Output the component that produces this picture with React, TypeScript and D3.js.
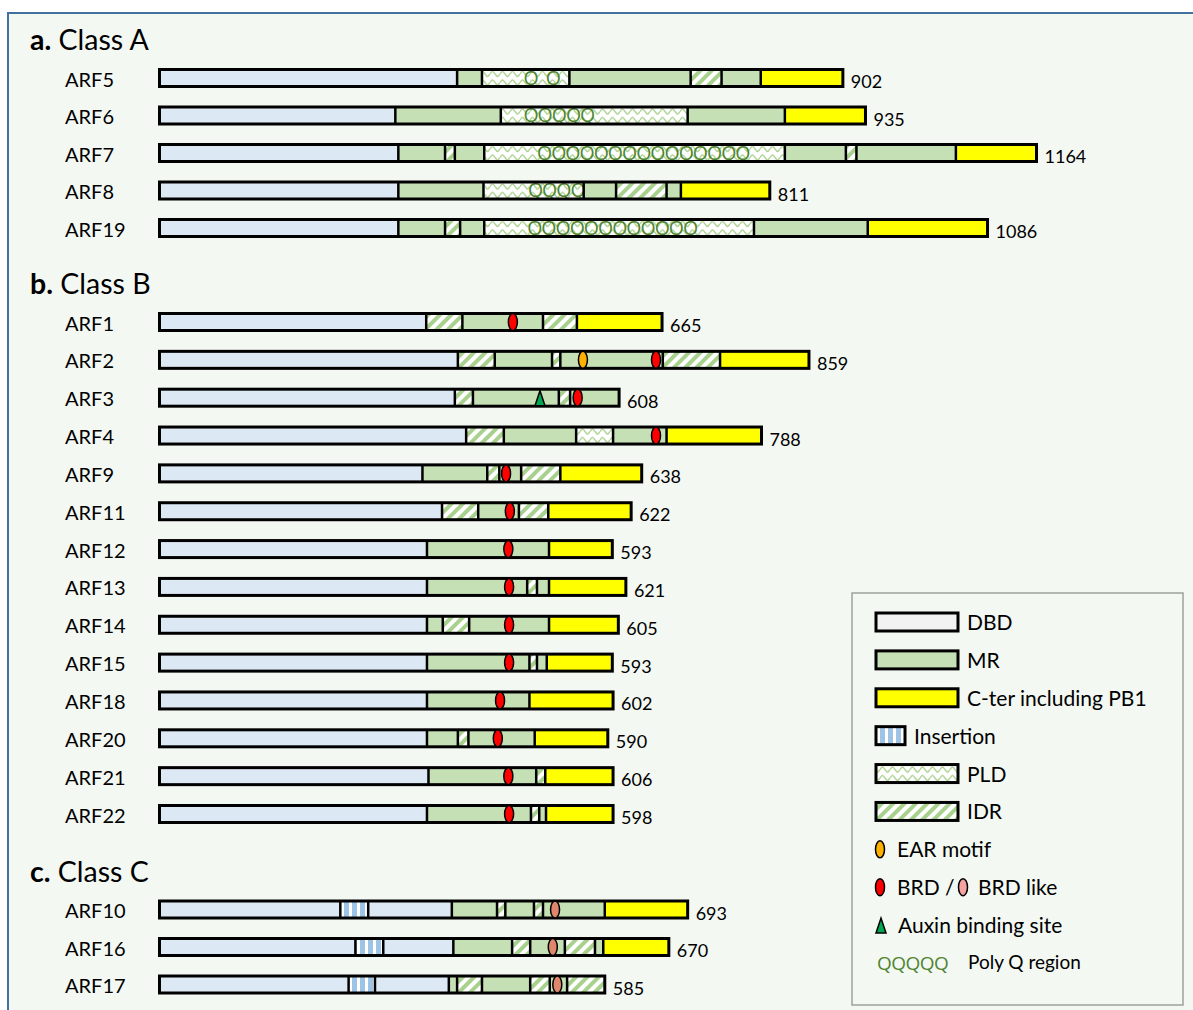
import React from "react";
import * as d3 from "d3";

type Seg = [string, number];
type Motif = [string, number];
type PolyQ = [number, string] | null;

// Class A — segment ends in amino acids
const classANames = ["ARF5", "ARF6", "ARF7", "ARF8", "ARF19"];
const classALengths = [902, 935, 1164, 811, 1086];
const classASegments: Seg[][] = [
  [["DBD", 395], ["MR", 428], ["PLD", 544], ["MR", 705], ["IDR", 746], ["MR", 798], ["CT", 907]],
  [["DBD", 313], ["MR", 453], ["PLD", 701], ["MR", 830], ["CT", 937]],
  [["DBD", 317], ["MR", 379], ["IDR", 392], ["MR", 431], ["PLD", 830], ["MR", 911], ["IDR", 925], ["MR", 1057], ["CT", 1164]],
  [["DBD", 317], ["MR", 430], ["PLD", 563], ["MR", 606], ["IDR", 673], ["MR", 692], ["CT", 810]],
  [["DBD", 317], ["MR", 379], ["IDR", 399], ["MR", 431], ["PLD", 789], ["MR", 940], ["CT", 1099]],
];
const classAMotifs: Motif[][] = [[], [], [], [], []];
const classAPolyQ: PolyQ[] = [
  [483, "Q  Q"],
  [483, "QQQQQ"],
  [501, "QQQQQQQQQQQQQQQ"],
  [489, "QQQQ"],
  [488, "QQQQQQQQQQQQ"],
];

// Class B
const classBNames = ["ARF1", "ARF2", "ARF3", "ARF4", "ARF9", "ARF11", "ARF12", "ARF13", "ARF14", "ARF15", "ARF18", "ARF20", "ARF21", "ARF22"];
const classBLengths = [665, 859, 608, 788, 638, 622, 593, 621, 605, 593, 602, 590, 606, 598];
const classBSegments: Seg[][] = [
  [["DBD", 354], ["IDR", 402], ["MR", 509], ["IDR", 554], ["CT", 667]],
  [["DBD", 396], ["IDR", 445], ["MR", 521], ["IDR", 532], ["MR", 668], ["IDR", 744], ["CT", 862]],
  [["DBD", 392], ["IDR", 416], ["MR", 530], ["IDR", 545], ["MR", 610]],
  [["DBD", 407], ["IDR", 457], ["MR", 553], ["PLD", 602], ["MR", 673], ["CT", 799]],
  [["DBD", 349], ["MR", 435], ["IDR", 451], ["MR", 480], ["IDR", 532], ["CT", 640]],
  [["DBD", 375], ["IDR", 423], ["MR", 477], ["IDR", 516], ["CT", 626]],
  [["DBD", 355], ["MR", 517], ["CT", 601]],
  [["DBD", 355], ["MR", 488], ["IDR", 501], ["MR", 517], ["CT", 619]],
  [["DBD", 355], ["MR", 376], ["IDR", 411], ["MR", 517], ["CT", 609]],
  [["DBD", 355], ["MR", 491], ["IDR", 501], ["MR", 514], ["CT", 601]],
  [["DBD", 355], ["MR", 491], ["CT", 602]],
  [["DBD", 355], ["MR", 396], ["IDR", 410], ["MR", 498], ["CT", 595]],
  [["DBD", 357], ["MR", 500], ["IDR", 512], ["CT", 602]],
  [["DBD", 355], ["MR", 493], ["IDR", 504], ["MR", 513], ["CT", 602]],
];
const classBMotifs: Motif[][] = [
  [["BRD", 469]],
  [["EAR", 562], ["BRD", 659]],
  [["AUX", 505], ["BRD", 555]],
  [["BRD", 659]],
  [["BRD", 460]],
  [["BRD", 465]],
  [["BRD", 463]],
  [["BRD", 464]],
  [["BRD", 464]],
  [["BRD", 464]],
  [["BRD", 452]],
  [["BRD", 449]],
  [["BRD", 463]],
  [["BRD", 464]],
];

// Class C
const classCNames = ["ARF10", "ARF16", "ARF17"];
const classCLengths = [693, 670, 585];
const classCSegments: Seg[][] = [
  [["DBD", 240], ["INS", 277], ["DBD", 388], ["MR", 448], ["IDR", 459], ["MR", 497], ["IDR", 509], ["MR", 591], ["CT", 701]],
  [["DBD", 260], ["INS", 297], ["DBD", 390], ["MR", 468], ["IDR", 492], ["MR", 538], ["IDR", 578], ["MR", 589], ["CT", 676]],
  [["DBD", 251], ["INS", 286], ["DBD", 384], ["MR", 395], ["IDR", 428], ["MR", 492], ["IDR", 518], ["MR", 541], ["IDR", 591]],
];
const classCMotifs: Motif[][] = [[["BRDL", 525]], [["BRDL", 522]], [["BRDL", 528]]];

const legendKeys = ["DBD", "MR", "C-ter including PB1", "Insertion", "PLD", "IDR", "EAR motif", "BRD", "Auxin binding site", "Poly Q region"];

const FONT = "Lato, 'Open Sans', sans-serif";
const QFONT = "'Open Sans', Lato, sans-serif";
const H = 17;
const QGREEN = "#4f8530";

const fills: Record<string, string> = {
  DBD: "#dde8f5",
  MR: "#c5e0b4",
  CT: "#ffff00",
  IDR: "url(#idr)",
  PLD: "url(#pld)",
  INS: "url(#ins)",
};
const motifFills: Record<string, string> = {
  BRD: "#ff0000",
  EAR: "#ffb000",
  BRDL: "#e0866c",
  AUX: "#00a651",
};

const x = d3.scaleLinear().domain([0, 1164]).range([159.5, 1036.5]);

function MotifMark({ kind, cx }: { kind: string; cx: number }) {
  if (kind === "AUX") {
    return (
      <path
        d={`M${cx - 5},8 L${cx},-7 L${cx + 5},8 Z`}
        fill={motifFills.AUX}
        stroke="#000"
        strokeWidth={1.5}
      />
    );
  }
  return <ellipse cx={cx} cy={0} rx={4.5} ry={8.5} fill={motifFills[kind]} stroke="#000" strokeWidth={1.5} />;
}

function Row({ name, length, segs, motifs, polyQ, cy }: {
  name: string; length: number; segs: Seg[]; motifs: Motif[]; polyQ: PolyQ; cy: number;
}) {
  let start = 0;
  const parts = segs.map(([t, end]) => {
    const p = { t, s: start, e: end };
    start = end;
    return p;
  });
  const barEnd = x(segs[segs.length - 1][1]);
  return (
    <g transform={`translate(0,${cy})`}>
      <text x={65} y={8.5} fontSize={20}>{name}</text>
      {parts.map((p, i) => (
        <rect key={i} x={x(p.s)} y={-H / 2} width={x(p.e) - x(p.s)} height={H} fill={fills[p.t]} />
      ))}
      {polyQ && (
        <text
          x={x(polyQ[0])}
          y={6.5}
          fontSize={19.5}
          fontFamily={QFONT}
          letterSpacing={-1}
          fill={QGREEN}
          style={{ whiteSpace: "pre" }}
        >
          {polyQ[1]}
        </text>
      )}
      {parts.slice(1).map((p, i) => (
        <line key={i} x1={x(p.s)} x2={x(p.s)} y1={-H / 2} y2={H / 2} stroke="#000" strokeWidth={2.5} />
      ))}
      <rect x={x(0)} y={-H / 2} width={barEnd - x(0)} height={H} fill="none" stroke="#000" strokeWidth={3} />
      {motifs.map(([k, pos], i) => (
        <MotifMark key={i} kind={k} cx={x(pos)} />
      ))}
      <text x={barEnd + 8} y={10} fontSize={18}>{length}</text>
    </g>
  );
}

const sections = [
  { tag: "a.", title: "Class A", titleY: 50, yRange: [78, 228], names: classANames, lengths: classALengths, segs: classASegments, motifs: classAMotifs, polyQ: classAPolyQ },
  { tag: "b.", title: "Class B", titleY: 294, yRange: [322, 814], names: classBNames, lengths: classBLengths, segs: classBSegments, motifs: classBMotifs, polyQ: classBNames.map(() => null) },
  { tag: "c.", title: "Class C", titleY: 882, yRange: [909.5, 984.5], names: classCNames, lengths: classCLengths, segs: classCSegments, motifs: classCMotifs, polyQ: classCNames.map(() => null) },
];

function Legend() {
  const y = d3.scalePoint<string>().domain(legendKeys).range([622, 963]);
  const barFill: Record<string, string> = {
    DBD: "#f2f2f2",
    MR: fills.MR,
    "C-ter including PB1": fills.CT,
    Insertion: fills.INS,
    PLD: fills.PLD,
    IDR: fills.IDR,
  };
  return (
    <g>
      <rect x={852} y={593} width={331} height={412} fill="none" stroke="#9aa39a" strokeWidth={1.5} />
      {legendKeys.map((k) => {
        const cy = y(k) as number;
        if (barFill[k]) {
          const w = k === "Insertion" ? 29 : 82;
          return (
            <g key={k} transform={`translate(0,${cy})`}>
              <rect x={876} y={-H / 2 - 0.5} width={w} height={H + 1} fill={barFill[k]} stroke="#000" strokeWidth={3} />
              <text x={876 + w + 9} y={8} fontSize={21}>{k}</text>
            </g>
          );
        }
        if (k === "EAR motif") {
          return (
            <g key={k} transform={`translate(0,${cy})`}>
              <MotifMark kind="EAR" cx={880} />
              <text x={897} y={8} fontSize={21}>{k}</text>
            </g>
          );
        }
        if (k === "BRD") {
          return (
            <g key={k} transform={`translate(0,${cy})`}>
              <MotifMark kind="BRD" cx={880} />
              <text x={897} y={8} fontSize={21}>BRD /</text>
              <ellipse cx={963} cy={0} rx={4.5} ry={8.5} fill="#f4a3a0" stroke="#000" strokeWidth={1.5} />
              <text x={978} y={8} fontSize={21}>BRD like</text>
            </g>
          );
        }
        if (k === "Auxin binding site") {
          return (
            <g key={k} transform={`translate(0,${cy})`}>
              <MotifMark kind="AUX" cx={881} />
              <text x={898} y={8} fontSize={21}>{k}</text>
            </g>
          );
        }
        return (
          <g key={k} transform={`translate(0,${cy})`}>
            <text x={877} y={6.5} fontSize={19} fontFamily={QFONT} letterSpacing={-0.5} fill={QGREEN}>QQQQQ</text>
            <text x={968} y={6} fontSize={19}>{k}</text>
          </g>
        );
      })}
    </g>
  );
}

export default function App() {
  return (
    <div style={{ position: "absolute", left: 0, top: 0 }}>
      <svg width={1193} height={1010} style={{ display: "block", fontFamily: FONT }}>
        <defs>
          <pattern id="idr" width={8} height={8} patternUnits="userSpaceOnUse" patternTransform="rotate(45)">
            <rect width={8} height={8} fill="#ffffff" />
            <rect width={4} height={8} fill="#a9d18e" />
          </pattern>
          <pattern id="pld" x={0} y={-8.5} width={10} height={8.5} patternUnits="userSpaceOnUse">
            <rect width={10} height={8.5} fill="#ffffff" />
            <path d="M0,4.5 C2.5,1 2.5,1 5,4.5 C7.5,8 7.5,8 10,4.5" fill="none" stroke="#a9d18e" strokeWidth={1.3} />
          </pattern>
          <pattern id="ins" x={0} width={8} height={10} patternUnits="userSpaceOnUse">
            <rect width={8} height={10} fill="#ffffff" />
            <rect width={5} height={10} fill="#9dc3e6" />
          </pattern>
        </defs>
        <rect x={8} y={13} width={1200} height={1010} fill="#f4f8f3" stroke="#41719c" strokeWidth={2} />
        {sections.map((sec) => {
          const y = d3.scalePoint<string>().domain(sec.names).range(sec.yRange as [number, number]);
          return (
            <g key={sec.tag}>
              <text x={30} y={sec.titleY} fontSize={28.5}>
                <tspan fontWeight="bold">{sec.tag}</tspan> {sec.title}
              </text>
              {sec.names.map((n, i) => (
                <Row
                  key={n}
                  name={n}
                  length={sec.lengths[i]}
                  segs={sec.segs[i]}
                  motifs={sec.motifs[i]}
                  polyQ={sec.polyQ[i]}
                  cy={y(n) as number}
                />
              ))}
            </g>
          );
        })}
        <Legend />
      </svg>
    </div>
  );
}
